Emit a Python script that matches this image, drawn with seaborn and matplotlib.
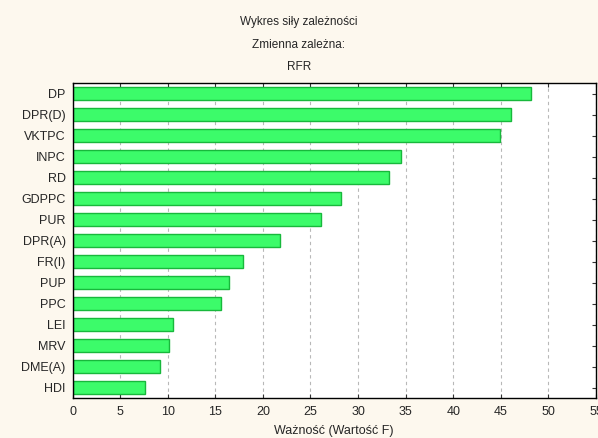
import matplotlib
matplotlib.use("Agg")
import matplotlib.pyplot as plt
import seaborn as sns
import pandas as pd

categories = ["DP", "DPR(D)", "VKTPC", "INPC", "RD", "GDPPC", "PUR", "DPR(A)",
              "FR(I)", "PUP", "PPC", "LEI", "MRV", "DME(A)", "HDI"]
values = [48.2, 46.1, 44.9, 34.5, 33.2, 28.2, 26.1, 21.8,
          17.9, 16.4, 15.6, 10.6, 10.1, 9.2, 7.65]
xticks = [0, 5, 10, 15, 20, 25, 30, 35, 40, 45, 50, 55]

sns.set_style("white")
plt.rcParams['font.family'] = ['Liberation Sans', 'DejaVu Sans']

df = pd.DataFrame({"var": categories, "val": values})

fig = plt.figure(figsize=(5.98, 4.38), dpi=100, facecolor="#fdf8ee")
ax = fig.add_axes([72.5/598, 1-398/438, (596-72.5)/598, (398-83)/438])
ax.set_facecolor("white")

sns.barplot(data=df, x="val", y="var", orient="h", ax=ax, width=0.58,
            color="#3cfb6a", edgecolor="#18b83c", linewidth=1.0, saturation=1)

ax.set_xlim(0, 55)
ax.set_ylim(14.5, -0.5)
ax.set_xticks(xticks)
ax.set_xticklabels([str(t) for t in xticks], fontsize=9)
ax.tick_params(axis="y", labelsize=9, pad=5)
ax.xaxis.grid(True, linestyle=(0, (3, 3)), color="#b8b8b8", linewidth=0.8)
ax.set_axisbelow(True)
ax.set_ylabel("")
ax.set_xlabel("Ważność (Wartość F)", fontsize=9, labelpad=5)
ax.tick_params(direction="in", length=3, top=True, right=True, bottom=True, left=True,
               width=0.8, color="#333333")
ax.tick_params(axis="x", pad=6)
for s in ax.spines.values():
    s.set_color("black")
    s.set_linewidth(1.0)

fig.text(0.5, 1-22/438, "Wykres siły zależności", ha="center", va="center", fontsize=8.5)
fig.text(0.5, 1-45/438, "Zmienna zależna:", ha="center", va="center", fontsize=8.5)
fig.text(0.5, 1-67/438, "RFR", ha="center", va="center", fontsize=8.5)

fig.savefig("out.png", dpi=100, facecolor=fig.get_facecolor())
